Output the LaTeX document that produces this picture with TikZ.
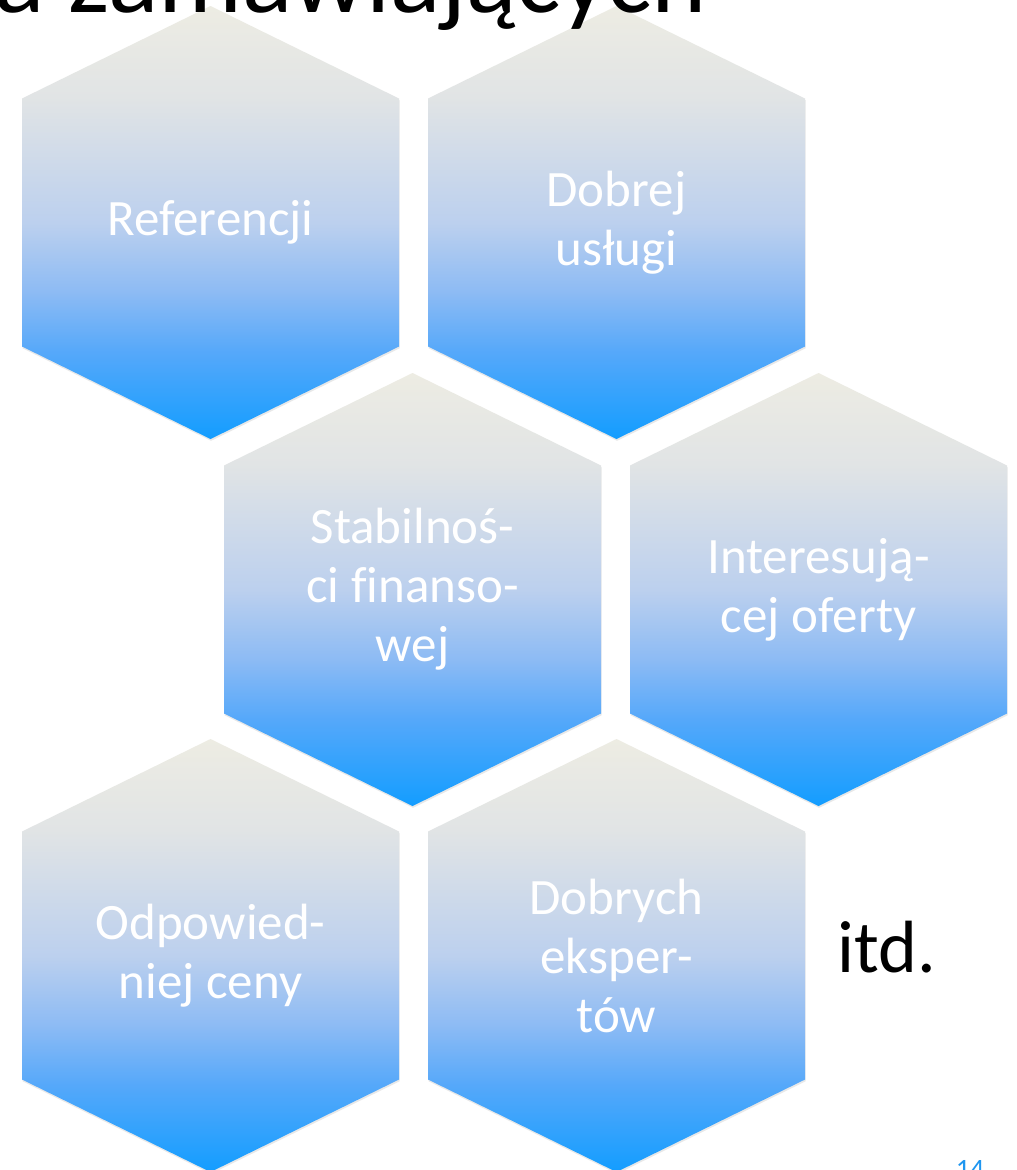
\documentclass[tikz,border=0pt]{standalone}
\usepackage{fontspec}
\setmainfont{Carlito}[Ligatures=NoCommon]
\usetikzlibrary{shadows}

% gradient colours of the cells, from apex (A) to bottom tip (F)
\definecolor{hexA}{HTML}{EDECE3}
\definecolor{hexB}{HTML}{E1E4E5}
\definecolor{hexC}{HTML}{BCD0EE}
\definecolor{hexD}{HTML}{8DBBF4}
\definecolor{hexE}{HTML}{55A8FA}
\definecolor{hexF}{HTML}{139DFF}
\definecolor{pageblue}{HTML}{1E96F0}

\pgfdeclareverticalshading{hexshade}{100bp}{%
  color(0bp)=(hexF); color(25bp)=(hexF); color(35bp)=(hexE);
  color(42bp)=(hexD); color(50bp)=(hexC); color(64.5bp)=(hexB);
  color(75bp)=(hexA); color(100bp)=(hexA)}

\tikzset{
  hexcellstyle/.style={shading=hexshade,
    drop shadow={shadow xshift=0.6pt, shadow yshift=-1.8pt, opacity=0.18}},
  hextext/.style={text=white, font=\fontsize{51}{59}\selectfont,
    align=center, inner sep=0pt},
}

% one hexagonal cell: name, centre x, centre y, label
\newcommand\hexcell[4]{%
  \shade[hexcellstyle] (#2-188.5,#3-124) -- (#2,#3-216.5) -- (#2+188.5,#3-124)
    -- (#2+188.5,#3+124) -- (#2,#3+216.5) -- (#2-188.5,#3+124) -- cycle;
  \node[hextext] (#1) at (#2,#3) {#4};}

\begin{document}
\begin{tikzpicture}[x=1pt,y=-1pt]
  \fill[white] (0,0) rectangle (1017,1170);
  \useasboundingbox (0,0) rectangle (1017,1170);

  \hexcell{ref}{210.5}{222.5}{Referencji}
  \hexcell{usl}{616.5}{222.5}{Dobrej\\usługi}
  \hexcell{stab}{412.5}{589.5}{Stabilnoś-\\ci finanso-\\wej}
  \hexcell{ofer}{818.5}{589.5}{Interesują-\\cej oferty}
  \hexcell{cena}{210.5}{955.5}{Odpowied-\\niej ceny}
  \hexcell{eksp}{616.5}{955.5}{Dobrych\\eksper-\\tów}

  \node[anchor=base, inner sep=0pt, font=\fontsize{74}{80}\selectfont]
    (itd) at (887,972) {itd.};

  \node[anchor=base west, inner sep=0pt, font=\fontsize{105}{120}\selectfont]
    (title) at (-6,12) {a zamawiających};

  \node[anchor=base, inner sep=0pt, text=pageblue, font=\fontsize{28}{30}\selectfont]
    (page) at (970,1178) {14};
\end{tikzpicture}
\end{document}
